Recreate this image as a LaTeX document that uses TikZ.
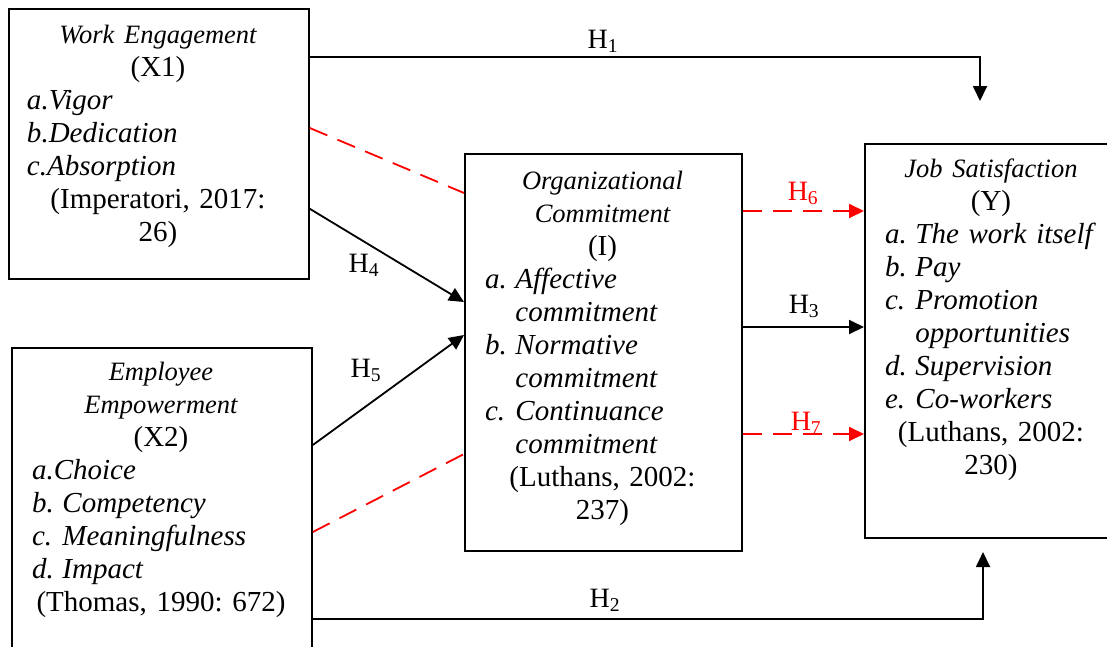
\documentclass[tikz,border=0pt]{standalone}
\usepackage{fontspec}
\setmainfont{Liberation Serif}
\usetikzlibrary{arrows.meta}
\setlength{\parindent}{0pt}
\frenchspacing
\newcommand{\ttl}{\fontsize{26.5}{33}\selectfont\itshape}
\newcommand{\lbl}[1]{\makebox[1.05em][l]{#1}}
\newcommand{\hng}{\hspace*{1.05em}}

\begin{document}
\begin{tikzpicture}[x=1pt,y=-1pt,
  box/.style={draw,line width=1.8pt,anchor=north west,inner sep=0pt},
  txt/.style={inner sep=0pt,anchor=north,align=center,font=\fontsize{29}{33}\selectfont},
  link/.style={line width=1.8pt,-{Triangle[length=15pt,width=14pt]}},
  hyp/.style={red,line width=1.8pt,dash pattern=on 19pt off 11pt},
  lab/.style={anchor=base,inner sep=0pt,font=\fontsize{28}{33}\selectfont}]
  \useasboundingbox (0,0) rectangle (1107,646);

  % variable boxes
  \node[box,minimum width=300pt,minimum height=270pt] (work) at (8,8) {};
  \node[box,minimum width=300pt,minimum height=320pt] (empow) at (11,347) {};
  \node[box,minimum width=277pt,minimum height=397pt] (org) at (464,153) {};
  \node[box,minimum width=246pt,minimum height=394pt] (job) at (864,143) {};

  \node[txt,text width=262pt] (workTxt) at (158,20) {%
    {\ttl\strut Work Engagement}\\(X1)\par
    \raggedright\itshape a.Vigor\\b.Dedication\\c.Absorption\par
    \centering\upshape (Imperatori, 2017:\\26)};
  \node[txt,text width=258pt] (empowTxt) at (161,357) {%
    {\ttl\strut Employee\\Empowerment}\\(X2)\par
    \raggedright\itshape a.Choice\\\lbl{b.}Competency\\\lbl{c.}Meaningfulness\\\lbl{d.}Impact\par
    \centering\upshape (Thomas, 1990: 672)};
  \node[txt,text width=235pt] (orgTxt) at (602.5,166) {%
    {\ttl\strut Organizational\\Commitment}\\(I)\par
    \raggedright\itshape \lbl{a.}Affective\\\hng commitment\\\lbl{b.}Normative\\\hng commitment\\%
    \lbl{c.}Continuance\\\hng commitment\par
    \centering\upshape (Luthans, 2002:\\237)};
  \node[txt,text width=212pt] (jobTxt) at (991,154) {%
    {\ttl\strut Job Satisfaction}\\(Y)\par
    \raggedright\itshape \lbl{a.}The work itself\\\lbl{b.}Pay\\\lbl{c.}Promotion\\\hng opportunities\\%
    \lbl{d.}Supervision\\\lbl{e.}Co-workers\par
    \centering\upshape (Luthans, 2002:\\230)};

  % direct paths
  \coordinate (h1end) at (980,101);
  \coordinate (h2end) at (983,552);
  \draw[link] ([yshift=-49pt]work.north east) -| (h1end);
  \draw[link] ([yshift=50pt]empow.south east) -| (h2end);
  \draw[link] ([yshift=71pt]work.south east) -- ([yshift=-149pt]org.north west);
  \draw[link] ([yshift=-98pt]empow.north east) -- ([yshift=-182pt]org.north west);
  \draw[link] ([yshift=-174pt]org.north east) -- ([yshift=-184pt]job.north west);

  % mediated paths
  \draw[hyp] ([yshift=-120pt]work.north east) -- ([yshift=-40pt]org.north west);
  \draw[hyp] ([yshift=-185pt]empow.north east) -- ([yshift=-301pt]org.north west);
  \draw[hyp,-{Triangle[length=15pt,width=14pt]}] ([yshift=-58pt]org.north east) -- ([yshift=-68pt]job.north west);
  \draw[hyp,-{Triangle[length=15pt,width=14pt]}] ([yshift=-281pt]org.north east) -- ([yshift=-291pt]job.north west);

  \node[lab] (h1) at (603,48) {H\textsubscript{1}};
  \node[lab] (h2) at (605,607) {H\textsubscript{2}};
  \node[lab] (h3) at (804,313) {H\textsubscript{3}};
  \node[lab] (h4) at (364,272) {H\textsubscript{4}};
  \node[lab] (h5) at (366,377) {H\textsubscript{5}};
  \node[lab,red] (h6) at (803,200) {H\textsubscript{6}};
  \node[lab,red] (h7) at (806,430) {H\textsubscript{7}};
\end{tikzpicture}
\end{document}
